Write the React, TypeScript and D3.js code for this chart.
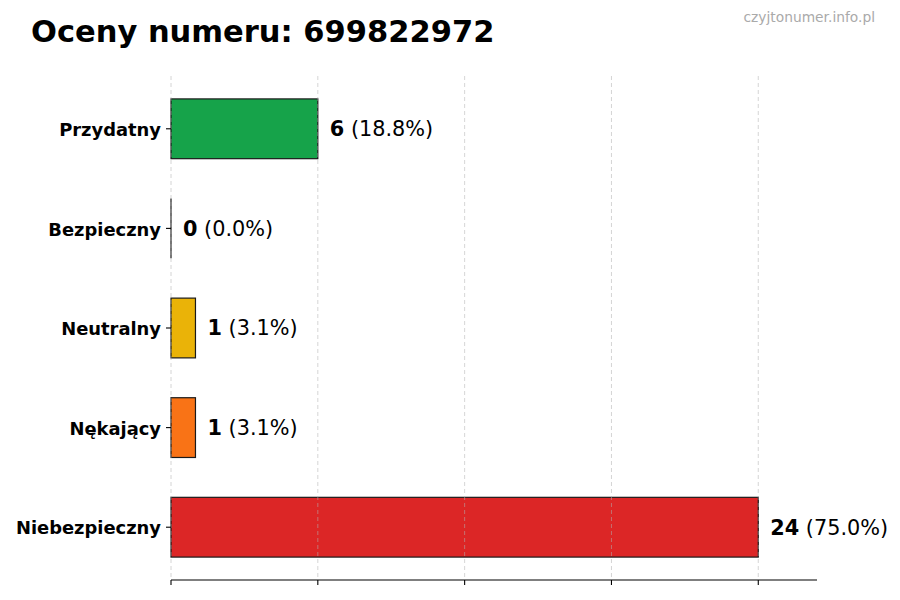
import React from "react";
import * as d3 from "d3";

const categories = ["Przydatny", "Bezpieczny", "Neutralny", "Nękający", "Niebezpieczny"];
const values = [6, 0, 1, 1, 24];
const colors = ["#16a34a", "#dc2626", "#eab308", "#f97316", "#dc2626"];
const xTicks = [0, 6, 12, 18, 24];
const title = "Oceny numeru: 699822972";
const watermark = "czyjtonumer.info.pl";

const W = 900;
const H = 600;
const left = 171;
const right = 817;
const top = 76;
const bottom = 580;
const FONT = "'DejaVu Sans', sans-serif";

export default function App() {
  const total = d3.sum(values);
  const x = d3.scaleLinear().domain([0, d3.max(values)! * 1.1]).range([left, right]);
  const y = d3
    .scaleBand<string>()
    .domain(categories)
    .range([top, bottom])
    .paddingInner(0.4)
    .paddingOuter(0.23);
  const bw = y.bandwidth();

  return (
    <svg
      width={W}
      height={H}
      style={{ position: "absolute", left: 0, top: 0, background: "#fff" }}
      fontFamily={FONT}
    >
      <rect x={0} y={0} width={W} height={H} fill="#fff" />
      <text x={31} y={42} fontSize={30.5} fontWeight="bold" fill="#000">
        {title}
      </text>
      <text x={875} y={22} fontSize={13.8} fill="#aaaaaa" textAnchor="end">
        {watermark}
      </text>

      {categories.map((c, i) => {
        const w = x(values[i]) - x(0);
        return w > 0 ? (
          <rect
            key={c}
            x={x(0)}
            y={y(c)!}
            width={w}
            height={bw}
            fill={colors[i]}
            stroke="#1a1a1a"
            strokeWidth={1.2}
          />
        ) : (
          <line
            key={c}
            x1={x(0)}
            x2={x(0)}
            y1={y(c)!}
            y2={y(c)! + bw}
            stroke="#1a1a1a"
            strokeWidth={1.2}
          />
        );
      })}

      {xTicks.map((t) => (
        <line
          key={"g" + t}
          x1={x(t)}
          x2={x(t)}
          y1={top}
          y2={bottom}
          stroke="#b0b0b0"
          strokeOpacity={0.6}
          strokeWidth={0.9}
          strokeDasharray="4,3"
        />
      ))}

      <line x1={left} x2={right} y1={bottom} y2={bottom} stroke="#000" strokeWidth={1.2} />
      {xTicks.map((t) => (
        <line key={"t" + t} x1={x(t)} x2={x(t)} y1={bottom} y2={bottom + 5} stroke="#000" strokeWidth={1.1} />
      ))}

      {categories.map((c) => {
        const cy = y(c)! + bw / 2;
        return (
          <g key={"yl" + c}>
            <line x1={left - 5} x2={left} y1={cy} y2={cy} stroke="#000" strokeWidth={1.1} />
            <text
              x={left - 10}
              y={cy}
              dy="0.4em"
              textAnchor="end"
              fontSize={17.9}
              fontWeight="bold"
              fill="#000"
            >
              {c}
            </text>
          </g>
        );
      })}

      {categories.map((c, i) => {
        const cy = y(c)! + bw / 2;
        const pct = ((values[i] / total) * 100).toFixed(1);
        return (
          <text key={"v" + c} x={x(values[i]) + 12} y={cy} dy="0.36em" fontSize={20.8} fill="#000">
            <tspan fontWeight="bold">{values[i]}</tspan>
            <tspan>{` (${pct}%)`}</tspan>
          </text>
        );
      })}
    </svg>
  );
}
